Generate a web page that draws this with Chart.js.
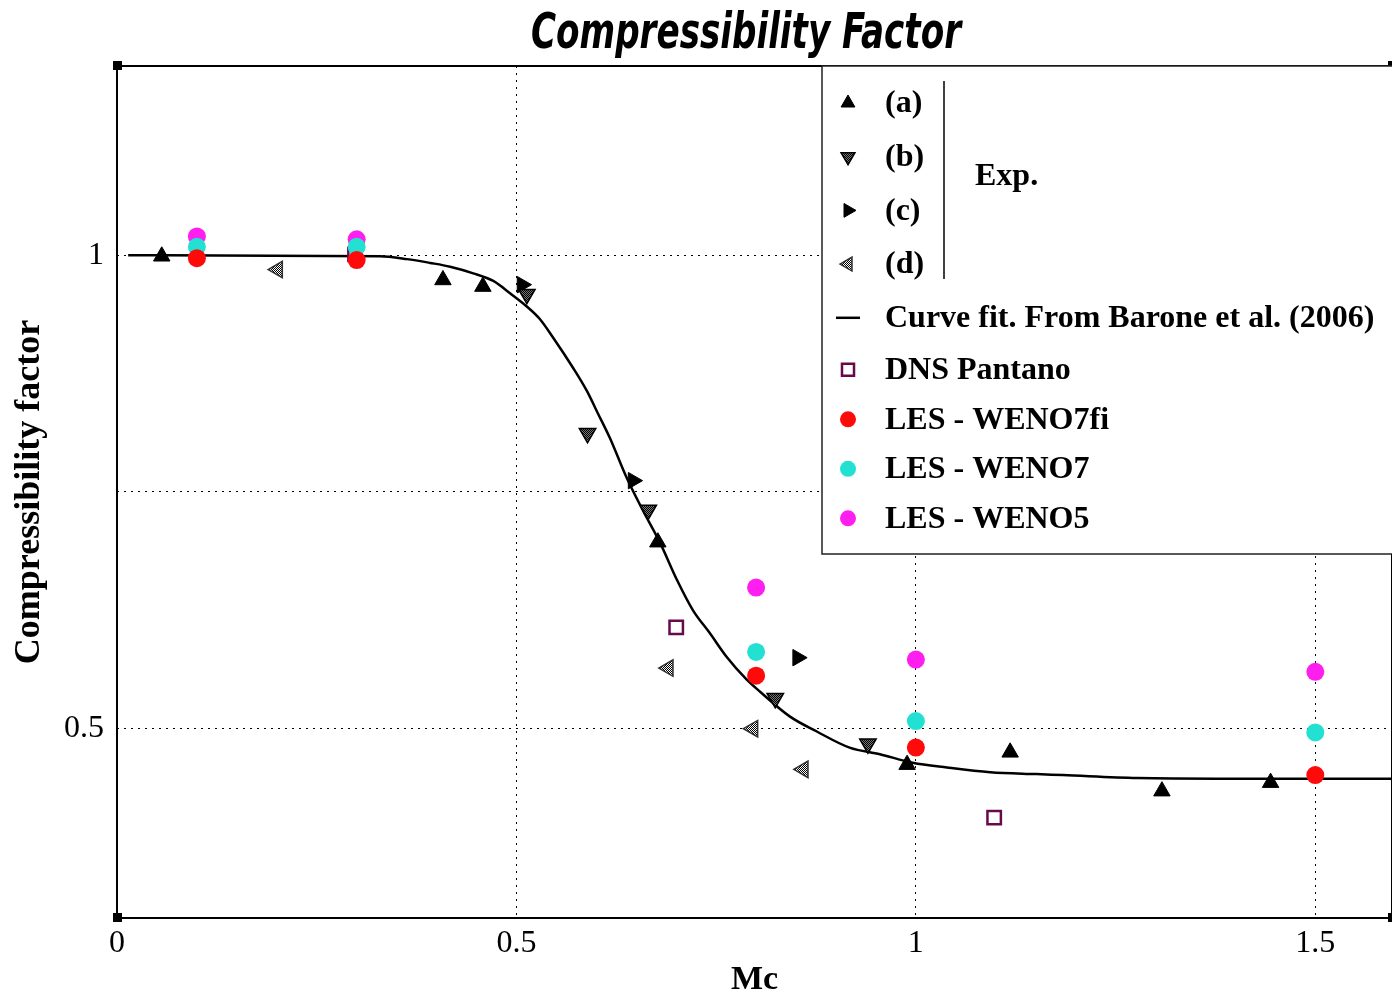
<!DOCTYPE html>
<html>
<head>
<meta charset="utf-8">
<script src="https://cdn.jsdelivr.net/npm/chart.js@4"></script>
<style>
  html, body { margin: 0; padding: 0; background: #fff; }
  #wrap { width: 1392px; height: 995px; }
</style>
</head>
<body>
<div id="wrap"><canvas id="chart" width="1392" height="995"></canvas></div>
<script>
// experimental data (a)-(d)
const expAx = [0.056, 0.408, 0.458, 0.677, 0.989, 1.118, 1.308, 1.444];
const expAy = [0.999, 0.974, 0.967, 0.697, 0.462, 0.475, 0.434, 0.443];
const expBx = [0.513, 0.589, 0.665, 0.824, 0.940];
const expBy = [0.959, 0.812, 0.731, 0.532, 0.484];
const expCx = [0.507, 0.646, 0.852];
const expCy = [0.969, 0.762, 0.575];
const expDx = [0.201, 0.690, 0.796, 0.859];
const expDy = [0.985, 0.564, 0.500, 0.457];

// curve fit, Barone et al. (2006)
const curveX = [0.014, 0.329, 0.363, 0.392, 0.417, 0.446, 0.471, 0.492, 0.513, 0.529, 0.546, 0.571, 0.588,
  0.602, 0.617, 0.638, 0.658, 0.680, 0.701, 0.721, 0.742, 0.763, 0.788, 0.805, 0.842, 0.876, 0.917, 0.955,
  0.996, 1.039, 1.093, 1.151, 1.184, 1.277, 1.514, 1.596];
const curveY = [1.000, 0.999, 0.996, 0.992, 0.988, 0.981, 0.973, 0.960, 0.946, 0.933, 0.913, 0.881, 0.857,
  0.833, 0.807, 0.765, 0.731, 0.696, 0.657, 0.625, 0.601, 0.576, 0.552, 0.539, 0.513, 0.497, 0.480, 0.473,
  0.464, 0.459, 0.454, 0.452, 0.451, 0.448, 0.447, 0.447];

// DNS and LES runs
const dnsX = [0.298, 0.700, 1.098];
const dnsY = [1.001, 0.607, 0.406];
const lesX = [0.1, 0.3, 0.8, 1.0, 1.5];
const weno7fiY = [0.997, 0.995, 0.556, 0.480, 0.451];
const weno7Y = [1.009, 1.009, 0.581, 0.508, 0.496];
const weno5Y = [1.020, 1.017, 0.649, 0.573, 0.560];

const xTicks = [0, 0.5, 1, 1.5];
const yTicks = [0.5, 0.75, 1];
const yTickLabels = ['0.5', '', '1'];
const expGroupLabel = 'Exp.';
const chartTitle = 'Compressibility Factor';

const pts = (xs, ys) => xs.map((x, i) => ({ x: x, y: ys[i] }));

function dither(light) {
  const c = document.createElement('canvas');
  c.width = 2; c.height = 2;
  const g = c.getContext('2d');
  g.fillStyle = light ? '#fff' : '#777';
  g.fillRect(0, 0, 2, 2);
  g.fillStyle = '#000';
  g.fillRect(0, 0, 1, 1);
  g.fillRect(1, 1, 1, 1);
  return g.createPattern(c, 'repeat');
}
const darkDither = dither(false);
const lightDither = dither(true);

const serif = "'Liberation Serif', 'Times New Roman', serif";

const datasets = [
  { label: '(a)', data: pts(expAx, expAy), pointStyle: 'triangle', pointRadius: 9.5, pointRotation: 0,
    backgroundColor: '#000', borderColor: '#000', borderWidth: 1, exp: true },
  { label: '(b)', data: pts(expBx, expBy), pointStyle: 'triangle', pointRadius: 9.5, pointRotation: 180,
    backgroundColor: darkDither, borderColor: '#000', borderWidth: 1.5, exp: true },
  { label: '(c)', data: pts(expCx, expCy), pointStyle: 'triangle', pointRadius: 9.5, pointRotation: 90,
    backgroundColor: '#000', borderColor: '#000', borderWidth: 1, exp: true },
  { label: '(d)', data: pts(expDx, expDy), pointStyle: 'triangle', pointRadius: 9.5, pointRotation: 270,
    backgroundColor: lightDither, borderColor: '#333', borderWidth: 1.5, exp: true },
  { label: 'Curve fit. From Barone et al. (2006)', data: pts(curveX, curveY), showLine: true,
    pointRadius: 0, borderColor: '#000', borderWidth: 2.5, backgroundColor: '#000', pointStyle: 'line',
    order: 2, cubicInterpolationMode: 'monotone' },
  { label: 'DNS Pantano', data: pts(dnsX, dnsY), pointStyle: 'rect', pointRadius: 9.5,
    backgroundColor: '#fff', borderColor: '#660a4c', borderWidth: 2.5, order: 1 },
  { label: 'LES - WENO7fi', data: pts(lesX, weno7fiY), pointStyle: 'circle', pointRadius: 9,
    backgroundColor: '#ff0a0a', borderColor: '#ff0a0a', borderWidth: 0 },
  { label: 'LES - WENO7', data: pts(lesX, weno7Y), pointStyle: 'circle', pointRadius: 9,
    backgroundColor: '#22e0d2', borderColor: '#22e0d2', borderWidth: 0 },
  { label: 'LES - WENO5', data: pts(lesX, weno5Y), pointStyle: 'circle', pointRadius: 9,
    backgroundColor: '#ff1ef0', borderColor: '#ff1ef0', borderWidth: 0 }
];

// title, frame, corner marks and the boxed legend
const boxLegend = {
  id: 'boxLegend',
  afterDraw(chart) {
    const ctx = chart.ctx;
    const a = chart.chartArea;
    ctx.save();

    // condensed italic title
    ctx.save();
    ctx.translate(746, 48);
    ctx.scale(0.775, 1);
    ctx.fillStyle = '#000';
    ctx.textAlign = 'center';
    ctx.textBaseline = 'alphabetic';
    ctx.font = "italic bold 49px 'Liberation Sans Narrow', 'DejaVu Sans Condensed', sans-serif";
    ctx.fillText(chartTitle, 0, 0);
    ctx.restore();

    ctx.strokeStyle = '#000';
    ctx.fillStyle = '#000';
    ctx.lineWidth = 2;
    ctx.strokeRect(a.left, a.top, a.right - a.left, a.bottom - a.top);
    [[a.left, a.top], [a.left, a.bottom], [a.right, a.top], [a.right, a.bottom]].forEach(([x, y]) => {
      ctx.fillRect(x - 4, y - 5, 9, 9);
    });

    const bx = 822, by = a.top, bh = 554 - a.top;
    ctx.fillStyle = '#fff';
    ctx.fillRect(bx, by, 700, bh);
    ctx.lineWidth = 1.5;
    ctx.strokeStyle = '#222';
    ctx.strokeRect(bx, by, 700, bh);

    const sx = 848, tx = 885;
    ctx.font = 'bold 32px ' + serif;
    ctx.textBaseline = 'middle';
    ctx.textAlign = 'left';
    let expRows = [];
    let y = 103;
    chart.data.datasets.forEach((ds, i) => {
      ctx.save();
      ctx.fillStyle = ds.backgroundColor;
      ctx.strokeStyle = ds.borderColor;
      ctx.lineWidth = ds.pointStyle === 'line' ? 2.5 : (ds.borderWidth || 0);
      Chart.helpers.drawPoint(ctx, {
        pointStyle: ds.pointStyle,
        radius: ds.pointStyle === 'line' ? 12 : (ds.pointStyle === 'rect' ? 8.5 : 8),
        rotation: ds.pointRotation || 0,
        borderWidth: ds.pointStyle === 'line' ? 2.5 : (ds.borderWidth || 0)
      }, sx, y);
      ctx.restore();
      ctx.fillStyle = '#000';
      ctx.fillText(ds.label, tx, y + 1);
      if (ds.exp) expRows.push(y);
      y += ds.exp ? 53.7 : (i === 4 ? 52 : 49.5);
    });
    // bracket for the experimental group
    ctx.strokeStyle = '#000';
    ctx.lineWidth = 1.5;
    ctx.beginPath();
    ctx.moveTo(944, expRows[0] - 22);
    ctx.lineTo(944, expRows[expRows.length - 1] + 15);
    ctx.stroke();
    ctx.fillStyle = '#000';
    ctx.fillText(expGroupLabel, 975, 177);
    ctx.restore();
  }
};

new Chart(document.getElementById('chart'), {
  type: 'scatter',
  data: { datasets: datasets },
  plugins: [boxLegend],
  options: {
    responsive: false,
    animation: false,
    layout: { padding: { top: 66, left: 0, right: 0, bottom: 0 }, autoPadding: false },
    plugins: {
      legend: { display: false },
      tooltip: { enabled: false },
      title: { display: false }
    },
    scales: {
      x: {
        type: 'linear',
        min: 0,
        max: 1.596,
        afterBuildTicks: s => { s.ticks = xTicks.map(v => ({ value: v })); },
        afterFit: s => { s.height = 77; },
        grid: { color: '#000', lineWidth: 1, drawTicks: false },
        border: { display: false, dash: [2, 5] },
        ticks: { color: '#000', padding: 6, font: { family: serif, size: 32 }, maxRotation: 0,
          callback: v => String(v) },
        title: { display: true, text: 'Mc', color: '#000', padding: { top: 0, bottom: 0 },
          font: { family: serif, size: 34, weight: 'bold', lineHeight: 0.85 } }
      },
      y: {
        type: 'linear',
        min: 0.3,
        max: 1.2,
        afterBuildTicks: s => { s.ticks = yTicks.map(v => ({ value: v })); },
        afterFit: s => { s.width = 117; },
        grid: { color: '#000', lineWidth: 1, drawTicks: false },
        border: { display: false, dash: [2, 5] },
        ticks: { color: '#000', padding: 13, font: { family: serif, size: 32 },
          callback: (v, i) => yTickLabels[i] },
        title: { display: true, text: 'Compressibility factor', color: '#000', padding: { top: 12, bottom: 0 },
          font: { family: serif, size: 36, weight: 'bold', lineHeight: 1 } }
      }
    }
  }
});
</script>
</body>
</html>
